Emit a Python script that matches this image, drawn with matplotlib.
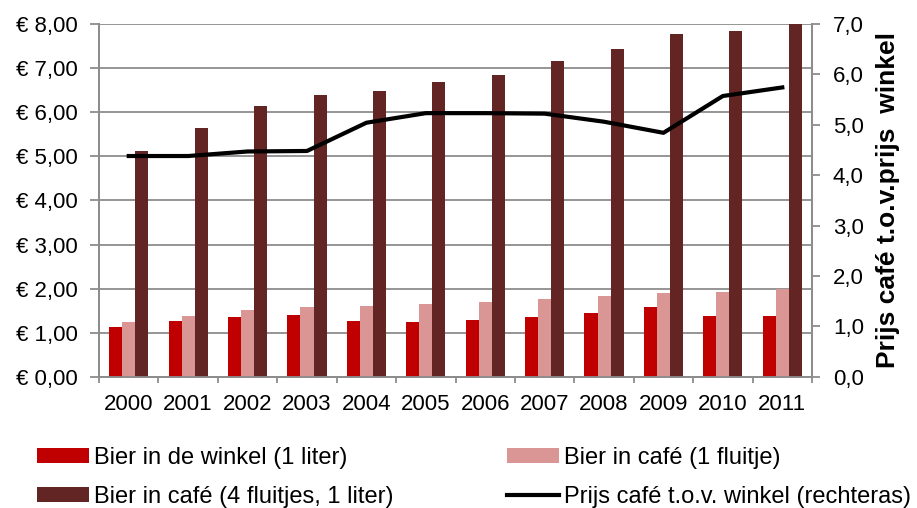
import numpy as np
import matplotlib.pyplot as plt
from matplotlib.ticker import FuncFormatter

plt.rcParams["font.family"] = ["Liberation Sans", "DejaVu Sans"]

years = ["2000", "2001", "2002", "2003", "2004", "2005",
         "2006", "2007", "2008", "2009", "2010", "2011"]
winkel = [1.14, 1.27, 1.36, 1.41, 1.27, 1.25, 1.28, 1.35, 1.44, 1.58, 1.39, 1.38]
cafe_1 = [1.25, 1.39, 1.52, 1.58, 1.60, 1.65, 1.69, 1.77, 1.84, 1.91, 1.93, 1.99]
cafe_4 = [5.11, 5.64, 6.15, 6.39, 6.47, 6.69, 6.84, 7.16, 7.44, 7.77, 7.84, 8.00]
ratio = [4.38, 4.38, 4.47, 4.48, 5.04, 5.23, 5.23, 5.22, 5.06, 4.84, 5.57, 5.74]

x = np.arange(len(years))
w = 0.22
grey = "#8c8c8c"

fig = plt.figure(figsize=(9.17, 5.08), dpi=100)
ax = fig.add_axes([0.108, 0.258, 0.7775, 0.695])

b1 = ax.bar(x - w, winkel, w, color="#C00000", zorder=3)
b2 = ax.bar(x, cafe_1, w, color="#D99694", zorder=3)
b3 = ax.bar(x + w, cafe_4, w, color="#632523", zorder=3)

ax.set_xlim(-0.5, len(years) - 0.5)
ax.set_ylim(0, 8)
ax.set_yticks(np.arange(0, 9, 1))
ax.yaxis.set_major_formatter(FuncFormatter(lambda v, p: "€ " + f"{v:.2f}".replace(".", ",")))
ax.grid(axis="y", color=grey, linewidth=1.3, zorder=0)
ax.set_xticks(x)
ax.set_xticklabels(years)
ax.set_xticks(np.arange(-0.5, len(years), 1), minor=True)
ax.tick_params(axis="x", which="major", length=0, labelsize=16, pad=12)
ax.tick_params(axis="x", which="minor", length=4.5, color=grey, width=1.3)
ax.tick_params(axis="y", length=6.5, color=grey, width=1.3, labelsize=16, pad=9)
ax.spines["top"].set_visible(False)
for s in ["left", "bottom", "right"]:
    ax.spines[s].set_color(grey)
    ax.spines[s].set_linewidth(1.3)

ax2 = ax.twinx()
ln, = ax2.plot(x, ratio, color="black", linewidth=3, zorder=4)
ax2.set_ylim(0, 7)
ax2.set_yticks(np.arange(0, 8, 1))
ax2.yaxis.set_major_formatter(FuncFormatter(lambda v, p: f"{v:.1f}".replace(".", ",")))
ax2.tick_params(axis="y", length=6, color=grey, width=1.3, labelsize=16, pad=9)
ax2.spines["top"].set_visible(False)
for s in ["left", "bottom", "right"]:
    ax2.spines[s].set_color(grey)
    ax2.spines[s].set_linewidth(1.3)
ax2.set_ylabel("Prijs café t.o.v.prijs  winkel", fontsize=19, fontweight="bold", labelpad=9)

fig.legend([b1, b3, b2, ln],
           ["Bier in de winkel (1 liter)", "Bier in café (4 fluitjes, 1 liter)",
            "Bier in café (1 fluitje)", "Prijs café t.o.v. winkel (rechteras)"],
           ncol=2, loc="upper left", bbox_to_anchor=(0.040, 0.120), frameon=False,
           fontsize=17, handlelength=2.2, handleheight=0.6, handletextpad=0.22,
           columnspacing=4.8, labelspacing=0.7, borderpad=0, borderaxespad=0)

fig.savefig("out.png", dpi=100)
